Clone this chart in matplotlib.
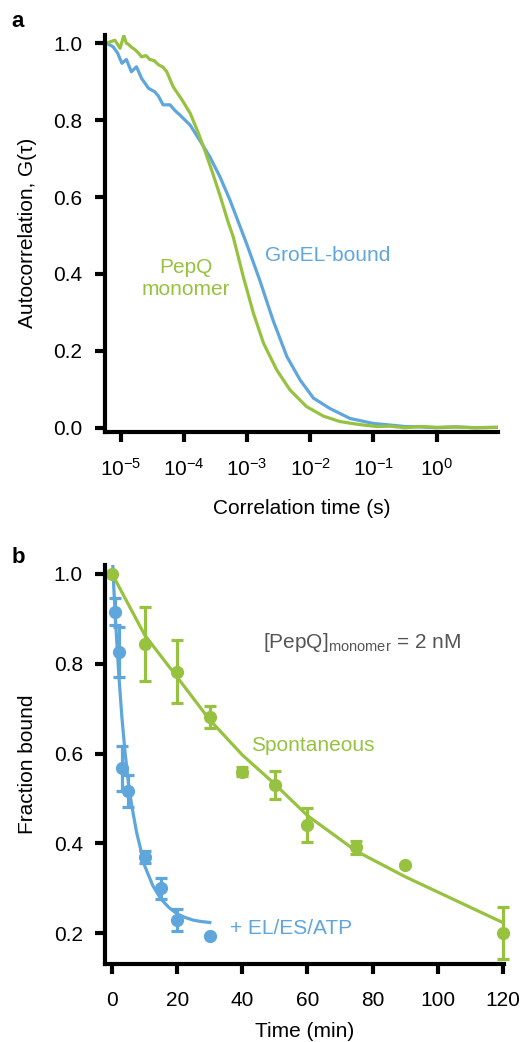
import numpy as np
import matplotlib
matplotlib.use("Agg")
import matplotlib.pyplot as plt
from matplotlib.ticker import FixedLocator, LogFormatterSciNotation, NullLocator

plt.rcParams['font.family'] = ['Liberation Sans', 'DejaVu Sans']
plt.rcParams['mathtext.fontset'] = 'custom'
plt.rcParams['mathtext.rm'] = 'Liberation Sans'
plt.rcParams['mathtext.it'] = 'Liberation Sans:italic'
plt.rcParams['axes.unicode_minus'] = True

BLUE = '#5fa6dc'
GREEN = '#97c240'
FS = 15

# panel a: autocorrelation curves (log10 of correlation time, G)
pepq_logt = [-5.22, -5.15, -5.09, -5.04, -5.01, -4.95, -4.91, -4.88, -4.83, -4.77,
             -4.72, -4.67, -4.60, -4.54, -4.47, -4.40, -4.33, -4.27, -4.17, -4.03,
             -3.90, -3.77, -3.67, -3.56, -3.43, -3.30, -3.22, -3.06, -2.90, -2.74,
             -2.53, -2.32, -2.06, -1.79, -1.53, -1.30, -1.16, -0.95, -0.74, -0.50,
             -0.25, 0.00, 0.30, 0.60, 0.97]
pepq_g = [1.000, 1.005, 1.008, 0.995, 0.987, 1.020, 1.000, 0.998, 0.990, 0.983,
          0.975, 0.965, 0.968, 0.958, 0.955, 0.944, 0.938, 0.926, 0.887, 0.853,
          0.818, 0.766, 0.722, 0.670, 0.605, 0.535, 0.497, 0.393, 0.298, 0.220,
          0.150, 0.098, 0.055, 0.030, 0.016, 0.010, 0.007, 0.003, 0.004, 0.000,
          0.003, 0.001, 0.002, 0.000, 0.001]

groel_logt = [-5.22, -5.12, -5.05, -4.98, -4.91, -4.83, -4.75, -4.67, -4.61, -4.56,
              -4.46, -4.40, -4.33, -4.22, -4.14, -4.06, -3.90, -3.75, -3.59, -3.43,
              -3.27, -3.11, -3.01, -2.80, -2.59, -2.37, -2.16, -1.95, -1.69, -1.37,
              -1.00, -0.74, -0.50, -0.25, 0.00, 0.30, 0.60, 0.97]
groel_g = [1.000, 0.991, 0.975, 0.948, 0.958, 0.926, 0.939, 0.909, 0.895, 0.883,
           0.874, 0.862, 0.840, 0.840, 0.825, 0.813, 0.787, 0.748, 0.705, 0.653,
           0.592, 0.523, 0.480, 0.384, 0.280, 0.185, 0.124, 0.077, 0.050, 0.024,
           0.011, 0.007, 0.003, 0.002, 0.000, 0.002, 0.000, 0.001]

# panel b: fraction bound vs time
spont_t = [0, 10, 20, 30, 40, 50, 60, 75, 90, 120]
spont_y = [1.0, 0.844, 0.782, 0.682, 0.560, 0.530, 0.441, 0.391, 0.352, 0.200]
spont_err = [0, 0.083, 0.07, 0.025, 0.01, 0.032, 0.037, 0.015, 0, 0.058]
spont_fit_t = [0, 10, 20, 30, 40, 50, 60, 75, 90, 105, 120]
spont_fit_y = [1.0, 0.864, 0.770, 0.675, 0.597, 0.532, 0.462, 0.383, 0.326, 0.275, 0.224]

chap_t = [1, 2, 3, 5, 10, 15, 20, 30]
chap_y = [0.916, 0.826, 0.567, 0.517, 0.370, 0.300, 0.230, 0.194]
chap_err = [0.03, 0.055, 0.05, 0.035, 0.013, 0.024, 0.024, 0]
chap_fit_t = [0, 0.5, 1, 1.5, 2, 3, 4, 5, 6, 7.5, 10, 12.5, 15, 17.5, 20, 22.5, 25, 27.5, 30]
chap_fit_y = [1.05, 0.97, 0.90, 0.84, 0.78, 0.68, 0.60, 0.535, 0.485, 0.425, 0.350,
              0.306, 0.276, 0.257, 0.243, 0.235, 0.229, 0.226, 0.224]

fig = plt.figure(figsize=(5.25, 10.42), dpi=100)
lw_ax = 3.0


def style(ax):
    for s in ['top', 'right']:
        ax.spines[s].set_visible(False)
    for s in ['left', 'bottom']:
        ax.spines[s].set_linewidth(lw_ax)
    ax.tick_params(width=lw_ax, length=7, labelsize=FS, direction='out')
    ax.tick_params(axis='y', pad=9)
    ax.tick_params(axis='x', pad=12)


# ---- panel a
ax1 = fig.add_axes([0.1994, 0.5857, 0.7497, 0.3807])
ax1.plot(10 ** np.array(groel_logt), groel_g, color=BLUE, lw=2.3)
ax1.plot(10 ** np.array(pepq_logt), pepq_g, color=GREEN, lw=2.3)
ax1.set_xscale('log')
ax1.set_xlim(10 ** -5.253, 10 ** 0.975)
ax1.set_ylim(-0.0104, 1.0216)
ax1.xaxis.set_major_locator(FixedLocator([1e-5, 1e-4, 1e-3, 1e-2, 1e-1, 1e0]))
ax1.xaxis.set_major_formatter(LogFormatterSciNotation())
ax1.xaxis.set_minor_locator(NullLocator())
ax1.set_yticks([0, 0.2, 0.4, 0.6, 0.8, 1.0])
ax1.set_yticklabels(['0.0', '0.2', '0.4', '0.6', '0.8', '1.0'])
style(ax1)
ax1.set_xlabel('Correlation time (s)', fontsize=FS, labelpad=14)
ax1.set_ylabel('Autocorrelation, G(τ)', fontsize=FS, labelpad=12)
ax1.text(0.407, 0.445, 'GroEL-bound', color=BLUE, fontsize=FS,
         transform=ax1.transAxes, ha='left', va='center')
ax1.text(0.207, 0.385, 'PepQ\nmonomer', color=GREEN, fontsize=FS,
         transform=ax1.transAxes, ha='center', va='center', linespacing=1.2)
fig.text(0.022, 0.979, 'a', fontsize=16, fontweight='bold', va='center')

# ---- panel b
ax2 = fig.add_axes([0.2, 0.0746, 0.76, 0.3832])
ax2.plot(chap_fit_t, chap_fit_y, color=BLUE, lw=2.3, clip_on=True)
ax2.plot(spont_fit_t, spont_fit_y, color=GREEN, lw=2.3)
ax2.errorbar(chap_t, chap_y, yerr=chap_err, fmt='o', color=BLUE, ms=8.5,
             elinewidth=2.3, capsize=4.5, capthick=2.3, clip_on=False)
ax2.errorbar(spont_t, spont_y, yerr=spont_err, fmt='o', color=GREEN, ms=8.5,
             elinewidth=2.3, capsize=4.5, capthick=2.3, clip_on=False)
ax2.set_xlim(-2.2, 120.4)
ax2.set_ylim(0.131, 1.02)
ax2.set_xticks([0, 20, 40, 60, 80, 100, 120])
ax2.set_yticks([0.2, 0.4, 0.6, 0.8, 1.0])
ax2.set_yticklabels(['0.2', '0.4', '0.6', '0.8', '1.0'])
style(ax2)
ax2.set_xlabel('Time (min)', fontsize=FS, labelpad=9)
ax2.set_ylabel('Fraction bound', fontsize=FS, labelpad=12)
ax2.text(0.397, 0.805, r'[PepQ]$_{\mathrm{monomer}}$ = 2 nM', color='#555555',
         fontsize=FS, transform=ax2.transAxes, ha='left', va='center')
ax2.text(0.365, 0.548, 'Spontaneous', color=GREEN, fontsize=FS,
         transform=ax2.transAxes, ha='left', va='center')
ax2.text(0.313, 0.09, '+ EL/ES/ATP', color=BLUE, fontsize=FS,
         transform=ax2.transAxes, ha='left', va='center')
fig.text(0.022, 0.465, 'b', fontsize=16, fontweight='bold', va='center')

fig.savefig('out.png', dpi=100)
